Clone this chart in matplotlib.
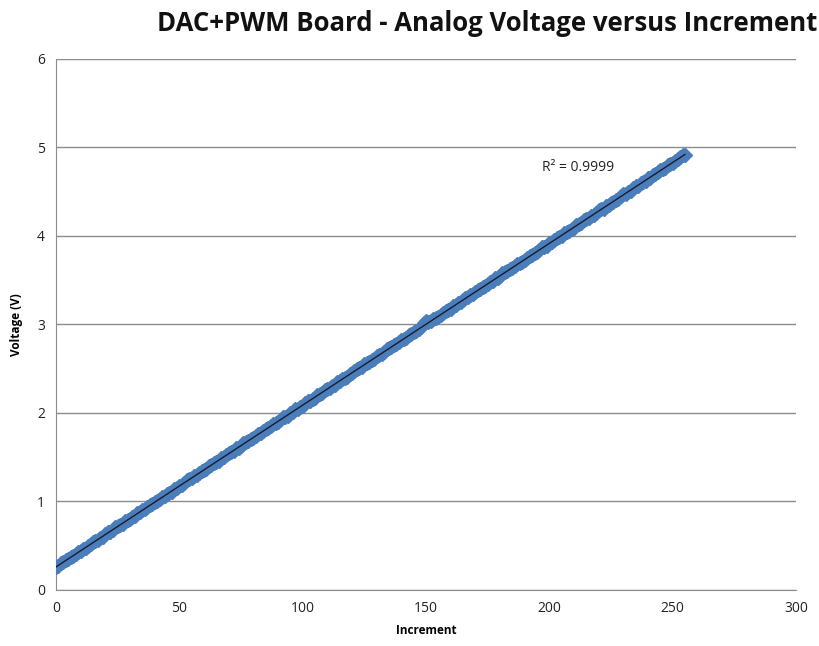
import numpy as np
import matplotlib
matplotlib.use('Agg')
import matplotlib.pyplot as plt

# voltage, one value per increment 0..255
voltage = [
    0.26, 0.27, 0.30, 0.32, 0.34, 0.35, 0.37, 0.38, 0.41, 0.43, 0.44, 0.46, 0.47, 0.50, 0.52, 0.54,
    0.55, 0.57, 0.59, 0.60, 0.63, 0.65, 0.66, 0.68, 0.71, 0.72, 0.73, 0.75, 0.78, 0.79, 0.80, 0.83,
    0.84, 0.87, 0.88, 0.90, 0.91, 0.94, 0.96, 0.97, 0.99, 1.00, 1.03, 1.05, 1.06, 1.09, 1.10, 1.11,
    1.14, 1.15, 1.18, 1.19, 1.21, 1.24, 1.25, 1.26, 1.29, 1.30, 1.32, 1.35, 1.36, 1.37, 1.40, 1.41,
    1.43, 1.45, 1.46, 1.49, 1.50, 1.52, 1.55, 1.56, 1.57, 1.60, 1.61, 1.63, 1.66, 1.67, 1.68, 1.71,
    1.72, 1.74, 1.76, 1.77, 1.80, 1.82, 1.83, 1.85, 1.88, 1.89, 1.90, 1.92, 1.95, 1.96, 1.97, 2.00,
    2.01, 2.04, 2.05, 2.07, 2.08, 2.11, 2.13, 2.14, 2.16, 2.17, 2.20, 2.22, 2.23, 2.26, 2.27, 2.28,
    2.31, 2.32, 2.35, 2.36, 2.38, 2.40, 2.41, 2.44, 2.45, 2.47, 2.50, 2.51, 2.52, 2.55, 2.56, 2.58,
    2.60, 2.61, 2.64, 2.66, 2.67, 2.69, 2.72, 2.73, 2.74, 2.77, 2.78, 2.80, 2.83, 2.84, 2.85, 2.88,
    2.89, 2.91, 2.93, 2.95, 2.97, 3.02, 3.04, 3.03, 3.04, 3.06, 3.07, 3.09, 3.11, 3.13, 3.15, 3.16,
    3.18, 3.21, 3.22, 3.24, 3.25, 3.28, 3.30, 3.31, 3.33, 3.34, 3.37, 3.39, 3.40, 3.42, 3.43, 3.46,
    3.48, 3.49, 3.52, 3.53, 3.55, 3.58, 3.59, 3.60, 3.63, 3.64, 3.66, 3.68, 3.70, 3.71, 3.73, 3.75,
    3.77, 3.78, 3.81, 3.82, 3.84, 3.87, 3.88, 3.89, 3.92, 3.93, 3.95, 3.98, 3.99, 4.00, 4.03, 4.04,
    4.06, 4.08, 4.09, 4.12, 4.13, 4.15, 4.18, 4.19, 4.20, 4.23, 4.24, 4.26, 4.29, 4.30, 4.31, 4.34,
    4.35, 4.37, 4.38, 4.41, 4.42, 4.45, 4.47, 4.48, 4.50, 4.51, 4.54, 4.56, 4.57, 4.60, 4.61, 4.62,
    4.65, 4.66, 4.69, 4.70, 4.72, 4.74, 4.76, 4.77, 4.80, 4.81, 4.83, 4.85, 4.87, 4.89, 4.91, 4.92,
]
increment = np.arange(len(voltage))

title = 'DAC+PWM Board - Analog Voltage versus Increment'
r2_label = 'R² = 0.9999'
x_ticks = [0, 50, 100, 150, 200, 250, 300]
y_ticks = [0, 1, 2, 3, 4, 5, 6]

fig = plt.figure(figsize=(8.2, 6.46), dpi=100)
ax = fig.add_axes([0.0683, 0.0867, 0.9024, 0.822])

ax.plot(increment, voltage, linestyle='none', marker='D', markersize=7,
        color='#4a7ebb', markeredgecolor='#4a7ebb', zorder=3)

# linear trendline like excel
coef = np.polyfit(increment, voltage, 1)
xs = np.array([increment[0], increment[-1]])
ax.plot(xs, np.polyval(coef, xs), color='#1a1a2e', linewidth=1.0, zorder=4)

ax.text(197, 4.77, r2_label, fontsize=10, color='#222222', family='Open Sans',
        va='center')

ax.set_xlim(0, 300)
ax.set_ylim(0, 6)
ax.set_xticks(x_ticks)
ax.set_yticks(y_ticks)
ax.grid(axis='y', color='#8c8c8c', linewidth=1.0)
ax.set_axisbelow(True)
for side in ['top', 'right']:
    ax.spines[side].set_visible(False)
for side in ['left', 'bottom']:
    ax.spines[side].set_color('#8c8c8c')
ax.tick_params(length=0, pad=8, labelsize=10, colors='#222222')
for lab in ax.get_xticklabels() + ax.get_yticklabels():
    lab.set_family('Open Sans')

ax.set_xlabel('Increment', fontsize=8.5, fontweight='bold', family='Open Sans', labelpad=6)
ax.set_ylabel('Voltage (V)', fontsize=8.5, fontweight='bold', family='Open Sans', labelpad=10)

fig.text(0.594, 0.963, title, fontsize=18.5, fontweight='bold', family='Open Sans',
         ha='center', va='center', color='#111111')

fig.savefig('out.png', dpi=100)
